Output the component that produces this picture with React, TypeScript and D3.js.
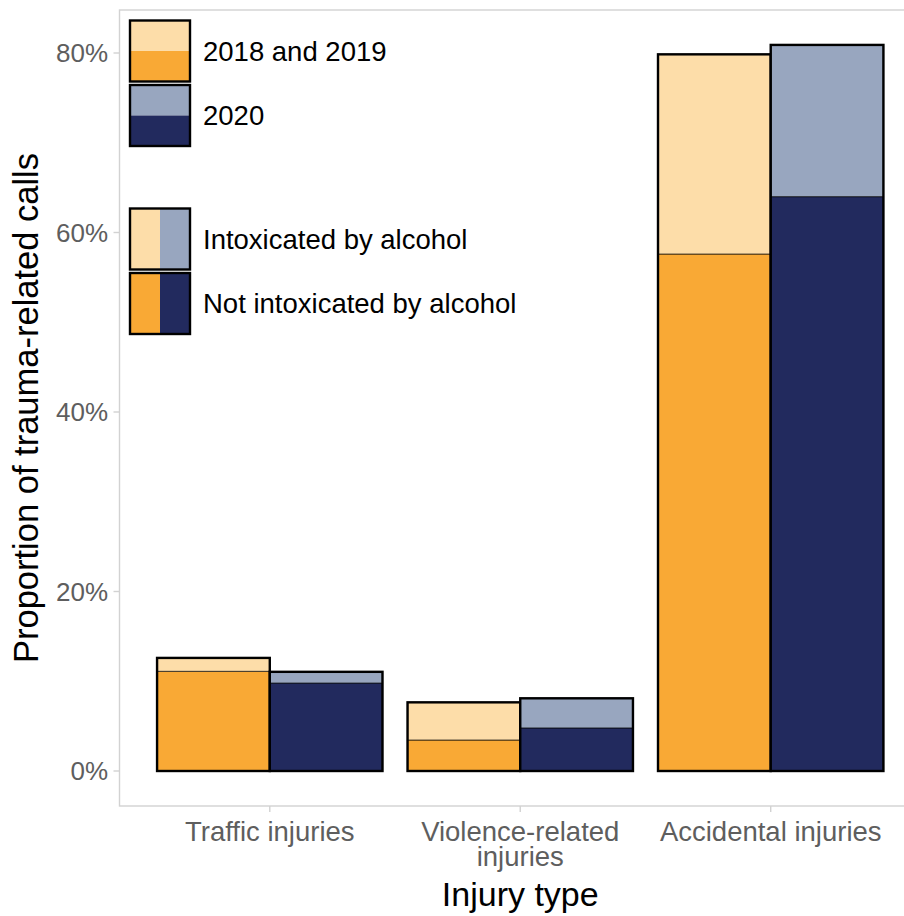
import React from "react";
import * as d3 from "d3";

const categories = ["Traffic injuries", "Violence-related\ninjuries", "Accidental injuries"];
const periods = ["2018 and 2019", "2020"];
// total proportion (%) per category for each period
const total1819 = [12.6, 7.65, 79.85];
const total2020 = [11.05, 8.1, 80.9];
// not intoxicated share (%)
const notIntox1819 = [11.1, 3.45, 57.6];
const notIntox2020 = [9.8, 4.8, 64.0];
const yTicks = [0, 20, 40, 60, 80];

const COLORS: Record<string, { light: string; dark: string }> = {
  "2018 and 2019": { light: "#FDDDA9", dark: "#F9A935" },
  "2020": { light: "#98A6BF", dark: "#222A5E" },
};

const FONT = "'Liberation Sans', Arial, Helvetica, sans-serif";

export default function App() {
  const W = 904, H = 916;
  const panel = { left: 119.5, right: 921, top: 10, bottom: 806 };
  const x = d3.scaleBand<string>().domain(categories).range([panel.left, panel.right]).paddingInner(0.1).paddingOuter(0.15);
  const sub = d3.scaleBand<string>().domain(periods).range([0, x.bandwidth()]).padding(0);
  const y = d3.scaleLinear().domain([0, 80]).range([771, 53]);

  const bars: { cat: string; per: string; total: number; not: number }[] = [];
  categories.forEach((c, i) => {
    bars.push({ cat: c, per: periods[0], total: total1819[i], not: notIntox1819[i] });
    bars.push({ cat: c, per: periods[1], total: total2020[i], not: notIntox2020[i] });
  });

  const kx = 130, kw = 60;
  const legendTop = [
    { y0: 20.5, label: "2018 and 2019", kind: "period", per: "2018 and 2019" },
    { y0: 85, label: "2020", kind: "period", per: "2020" },
    { y0: 208.5, label: "Intoxicated by alcohol", kind: "intox", light: true },
    { y0: 273, label: "Not intoxicated by alcohol", kind: "intox", light: false },
  ];
  const kh = 61;

  return (
    <svg width={W} height={H} style={{ position: "absolute", left: 0, top: 0, background: "#fff" }} fontFamily={FONT}>
      <rect x={0} y={0} width={W} height={H} fill="#fff" />
      {/* bars */}
      {bars.map((b, i) => {
        const bx = (x(b.cat) as number) + (sub(b.per) as number);
        const bw = sub.bandwidth();
        const col = COLORS[b.per];
        return (
          <g key={i}>
            <rect x={bx} y={y(b.not)} width={bw} height={y(0) - y(b.not)} fill={col.dark} stroke="rgba(0,0,0,0.55)" strokeWidth={1.2} />
            <rect x={bx} y={y(b.total)} width={bw} height={y(b.not) - y(b.total)} fill={col.light} stroke="rgba(0,0,0,0.55)" strokeWidth={1.2} />
            <rect x={bx} y={y(b.total)} width={bw} height={y(0) - y(b.total)} fill="none" stroke="#000" strokeWidth={2.4} />
          </g>
        );
      })}
      {/* panel border */}
      <rect x={panel.left} y={panel.top} width={panel.right - panel.left} height={panel.bottom - panel.top} fill="none" stroke="#d2d2d2" strokeWidth={1.4} />
      {/* y axis ticks */}
      {yTicks.map((t) => (
        <g key={t}>
          <line x1={panel.left - 6} x2={panel.left} y1={y(t)} y2={y(t)} stroke="#d2d2d2" strokeWidth={1.4} />
          <text x={108} y={y(t)} dy="0.36em" textAnchor="end" fontSize={26} fill="#5e5e5e">{t}%</text>
        </g>
      ))}
      {/* x axis ticks */}
      {categories.map((c) => {
        const cx = (x(c) as number) + x.bandwidth() / 2;
        const lines = c.split("\n");
        return (
          <g key={c}>
            <line x1={cx} x2={cx} y1={panel.bottom} y2={panel.bottom + 6} stroke="#d2d2d2" strokeWidth={1.4} />
            <text x={cx} y={841} textAnchor="middle" fontSize={27.5} fill="#5e5e5e">
              {lines.map((ln, j) => (
                <tspan key={j} x={cx} dy={j === 0 ? 0 : 25}>{ln}</tspan>
              ))}
            </text>
          </g>
        );
      })}
      {/* axis titles */}
      <text x={(panel.left + panel.right) / 2} y={906} textAnchor="middle" fontSize={34} fill="#000">Injury type</text>
      <text transform={`translate(38,${(panel.top + panel.bottom) / 2}) rotate(-90)`} textAnchor="middle" fontSize={34.5} fill="#000">Proportion of trauma-related calls</text>
      {/* legend */}
      {legendTop.map((l, i) => {
        let content;
        if (l.kind === "period") {
          const col = COLORS[l.per as string];
          content = (
            <>
              <rect x={kx} y={l.y0} width={kw} height={kh / 2} fill={col.light} />
              <rect x={kx} y={l.y0 + kh / 2} width={kw} height={kh / 2} fill={col.dark} />
            </>
          );
        } else {
          const a = COLORS["2018 and 2019"], b = COLORS["2020"];
          content = (
            <>
              <rect x={kx} y={l.y0} width={kw / 2} height={kh} fill={l.light ? a.light : a.dark} />
              <rect x={kx + kw / 2} y={l.y0} width={kw / 2} height={kh} fill={l.light ? b.light : b.dark} />
            </>
          );
        }
        return (
          <g key={i}>
            {content}
            <rect x={kx} y={l.y0} width={kw} height={kh} fill="none" stroke="#000" strokeWidth={2.4} />
            <text x={203} y={l.y0 + kh / 2} dy="0.36em" fontSize={27.5} fill="#000">{l.label}</text>
          </g>
        );
      })}
    </svg>
  );
}
